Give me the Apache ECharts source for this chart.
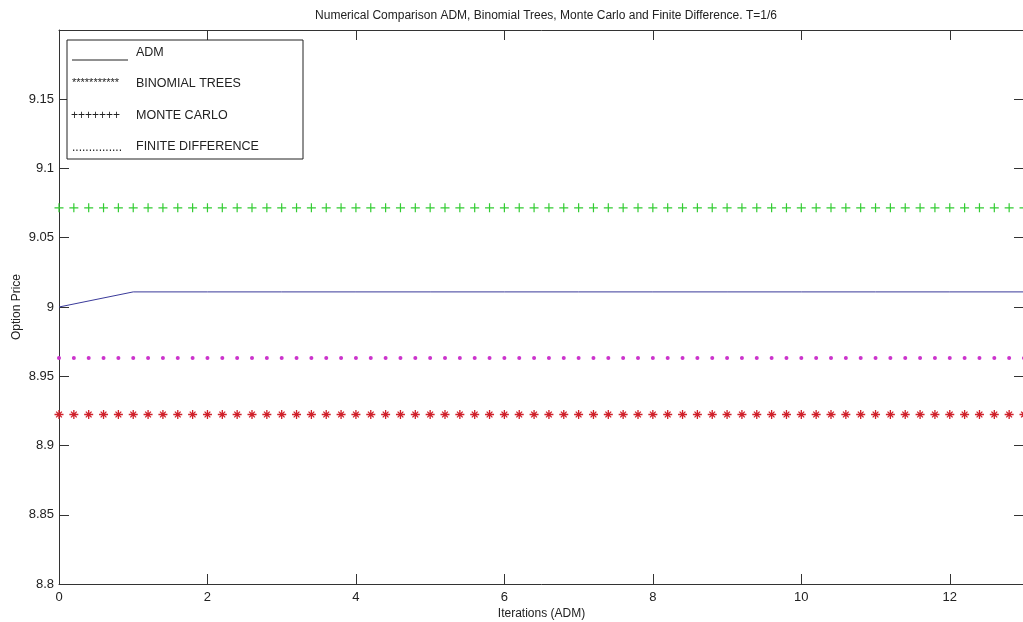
<!DOCTYPE html>
<html>
<head>
<meta charset="utf-8">
<title>Numerical Comparison ADM</title>
<script src="https://cdn.jsdelivr.net/npm/echarts@6/dist/echarts.min.js"></script>
<style>
  html, body { margin: 0; padding: 0; background: #fff; }
  #chart { width: 1023px; height: 622px; }
</style>
</head>
<body>
<div id="chart"></div>
<script>
// ADM iterations and its price per iteration
const admIterations = [0, 1, 2, 3, 4, 5, 6, 7, 8, 9, 10, 11, 12, 13];
const admPrices = [9.0, 9.0109, 9.0109, 9.0109, 9.0109, 9.0109, 9.0109, 9.0109, 9.0109, 9.0109, 9.0109, 9.0109, 9.0109, 9.0109];

// Positions where the reference methods are marked (constant prices)
const markerX = [
    0, 0.2, 0.4, 0.6, 0.8, 1, 1.2, 1.4, 1.6, 1.8, 2, 2.2, 2.4, 2.6, 2.8,
    3, 3.2, 3.4, 3.6, 3.8, 4, 4.2, 4.4, 4.6, 4.8, 5, 5.2, 5.4, 5.6, 5.8,
    6, 6.2, 6.4, 6.6, 6.8, 7, 7.2, 7.4, 7.6, 7.8, 8, 8.2, 8.4, 8.6, 8.8,
    9, 9.2, 9.4, 9.6, 9.8, 10, 10.2, 10.4, 10.6, 10.8, 11, 11.2, 11.4, 11.6, 11.8,
    12, 12.2, 12.4, 12.6, 12.8, 13
];
const binomialPrice = 8.9224;
const monteCarloPrice = 9.0716;
const finiteDiffPrice = 8.9632;

// Tick labels
const xTickLabels = ['0', '2', '4', '6', '8', '10', '12'];
const yTickLabels = ['8.8', '8.85', '8.9', '8.95', '9', '9.05', '9.1', '9.15'];

const FONT = '"Liberation Sans", Arial, sans-serif';
const AXIS_COLOR = '#333';

const PLUS_PATH = 'path://M5,0L5,10M0,5L10,5';
const STAR_PATH = 'path://M5,0L5,10M0,5L10,5M1.8,1.8L8.2,8.2M8.2,1.8L1.8,8.2';

function flatSeries(price) {
    return markerX.map(x => [x, price]);
}

function tickLabel(list) {
    return v => {
        const s = String(Math.round(v * 1000) / 1000);
        return list.indexOf(s) >= 0 ? s : '';
    };
}

const chart = echarts.init(document.getElementById('chart'));

const frameAxis = {
    axisLine: { show: true, onZero: false, lineStyle: { color: AXIS_COLOR, width: 1 } },
    axisTick: { show: true, inside: true, length: 10, lineStyle: { color: AXIS_COLOR } },
    splitLine: { show: false }
};

chart.setOption({
    animation: false,
    title: {
        text: 'Numerical Comparison ADM, Binomial Trees, Monte Carlo and Finite Difference. T=1/6',
        left: 541,
        textAlign: 'center',
        top: 5,
        textStyle: { fontFamily: FONT, fontSize: 12, fontWeight: 'normal', color: '#222' }
    },
    grid: { left: 59, top: 30, right: -1, bottom: 38, containLabel: false, outerBoundsMode: 'none' },
    xAxis: [
        Object.assign({}, frameAxis, {
            type: 'value', min: 0, max: 13, interval: 2, position: 'bottom',
            name: 'Iterations (ADM)', nameLocation: 'middle', nameGap: 24, nameMoveOverlap: false,
            nameTextStyle: { fontFamily: FONT, fontSize: 12, color: '#222' },
            axisLabel: { margin: 7, fontFamily: FONT, fontSize: 13, color: '#222', formatter: tickLabel(xTickLabels) }
        }),
        Object.assign({}, frameAxis, {
            type: 'value', min: 0, max: 13, interval: 2, position: 'top',
            axisLabel: { show: false }
        })
    ],
    yAxis: [
        Object.assign({}, frameAxis, {
            type: 'value', min: 8.8, max: 9.2, interval: 0.05, position: 'left',
            name: 'Option Price', nameLocation: 'middle', nameGap: 36, nameMoveOverlap: false,
            nameTextStyle: { fontFamily: FONT, fontSize: 12, color: '#222' },
            axisLabel: { margin: 5, fontFamily: FONT, fontSize: 13, color: '#222', formatter: tickLabel(yTickLabels) }
        }),
        Object.assign({}, frameAxis, {
            type: 'value', min: 8.8, max: 9.2, interval: 0.05, position: 'right',
            axisLabel: { show: false }
        })
    ],
    series: [
        {
            name: 'ADM', type: 'line', showSymbol: false,
            data: admIterations.map((x, i) => [x, admPrices[i]]),
            lineStyle: { color: '#3a3a9a', width: 1 }
        },
        {
            name: 'BINOMIAL TREES', type: 'scatter', symbol: STAR_PATH, symbolSize: 9,
            data: flatSeries(binomialPrice),
            itemStyle: { color: 'transparent', borderColor: '#d0202a', borderWidth: 1.3, opacity: 1 }
        },
        {
            name: 'MONTE CARLO', type: 'scatter', symbol: PLUS_PATH, symbolSize: 9,
            data: flatSeries(monteCarloPrice),
            itemStyle: { color: 'transparent', borderColor: '#33cc33', borderWidth: 1.2, opacity: 1 }
        },
        {
            name: 'FINITE DIFFERENCE', type: 'scatter', symbol: 'circle', symbolSize: 4,
            data: flatSeries(finiteDiffPrice),
            itemStyle: { color: '#cc33cc', opacity: 1 }
        }
    ],
    // MATLAB-style legend box, drawn by hand
    graphic: [
        { type: 'rect', shape: { x: 67, y: 40, width: 236, height: 119 },
          style: { fill: '#fff', stroke: '#222', lineWidth: 1 }, z: 100 },
        { type: 'line', shape: { x1: 72, y1: 60, x2: 128, y2: 60 },
          style: { stroke: '#222', lineWidth: 1 }, z: 101 },
        { type: 'text', x: 72, y: 83, z: 101,
          style: { text: '***********', fontFamily: FONT, fontSize: 11, fill: '#222', verticalAlign: 'middle' } },
        { type: 'text', x: 71, y: 116, z: 101,
          style: { text: '+++++++', fontFamily: FONT, fontSize: 12, fill: '#222', verticalAlign: 'middle' } },
        { type: 'text', x: 72, y: 148, z: 101,
          style: { text: '...............', fontFamily: FONT, fontSize: 12, fill: '#222', verticalAlign: 'middle' } },
        { type: 'text', x: 136, y: 53, z: 101,
          style: { text: 'ADM', fontFamily: FONT, fontSize: 12.5, fill: '#222', verticalAlign: 'middle' } },
        { type: 'text', x: 136, y: 84, z: 101,
          style: { text: 'BINOMIAL TREES', fontFamily: FONT, fontSize: 12.5, fill: '#222', verticalAlign: 'middle' } },
        { type: 'text', x: 136, y: 116, z: 101,
          style: { text: 'MONTE CARLO', fontFamily: FONT, fontSize: 12.5, fill: '#222', verticalAlign: 'middle' } },
        { type: 'text', x: 136, y: 147, z: 101,
          style: { text: 'FINITE DIFFERENCE', fontFamily: FONT, fontSize: 12.5, fill: '#222', verticalAlign: 'middle' } }
    ]
});
</script>
</body>
</html>
